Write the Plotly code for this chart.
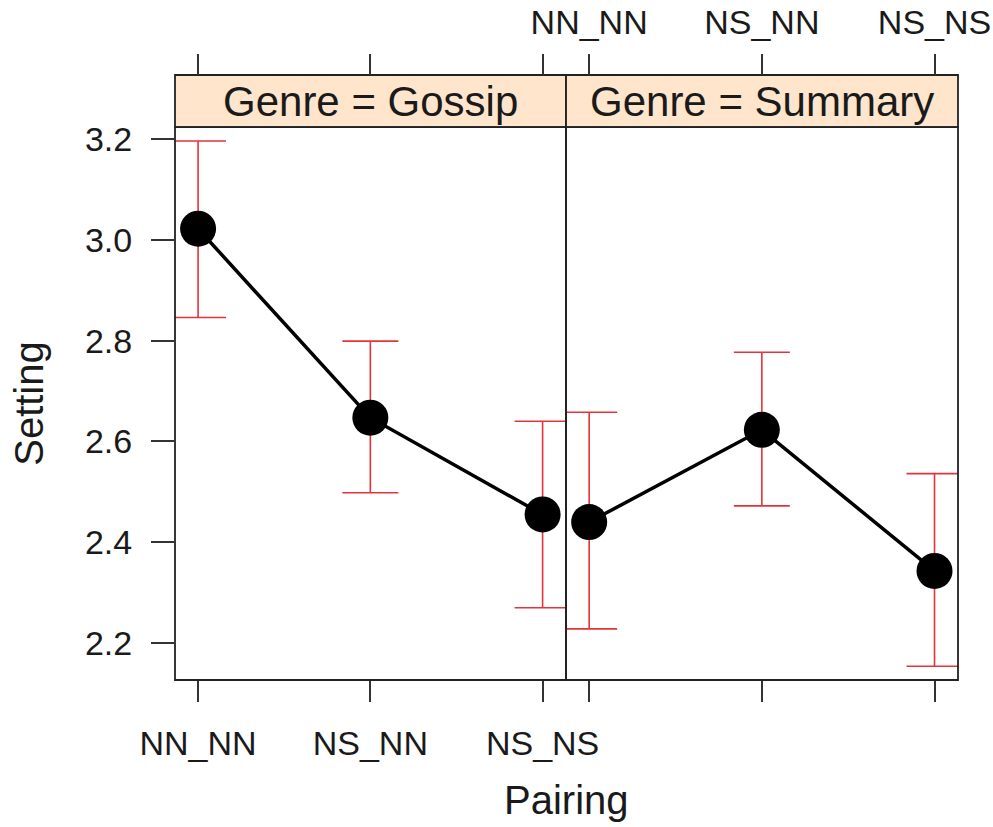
import plotly.graph_objects as go

# Mean "Setting" score per pairing, with interval bounds, for each genre panel
pairings = ["NN_NN", "NS_NN", "NS_NS"]
genres = ["Gossip", "Summary"]

gossip_mean = [3.022, 2.647, 2.455]
gossip_upper = [3.196, 2.799, 2.640]
gossip_lower = [2.846, 2.498, 2.270]

summary_mean = [2.440, 2.623, 2.343]
summary_upper = [2.658, 2.777, 2.536]
summary_lower = [2.228, 2.472, 2.154]

y_ticks = [2.2, 2.4, 2.6, 2.8, 3.0, 3.2]

FONT = "Liberation Sans, Arial, sans-serif"
ERR_COLOR = "#E3343A"
X_POS = [1, 2, 3]
X_RANGE = [0.866, 3.136]
Y_RANGE = [2.1266, 3.2238]
SPLIT = 0.4994
STRIP_BOTTOM = 0.914

panels = [
    (gossip_mean, gossip_upper, gossip_lower, "x", "x3"),
    (summary_mean, summary_upper, summary_lower, "x2", "x4"),
]

fig = go.Figure()
for mean, upper, lower, xa, xtop in panels:
    fig.add_trace(go.Scatter(
        x=X_POS, y=mean, xaxis=xa, yaxis="y",
        mode="lines+markers",
        line=dict(color="black", width=3.5),
        marker=dict(color="black", size=36),
        error_y=dict(
            type="data", symmetric=False,
            array=[u - m for u, m in zip(upper, mean)],
            arrayminus=[m - l for m, l in zip(mean, lower)],
            color=ERR_COLOR, thickness=1.6, width=28,
        ),
        showlegend=False, hoverinfo="skip",
    ))
    # transparent copy so the top (above-strip) tick axis is drawn
    fig.add_trace(go.Scatter(
        x=X_POS, y=mean, xaxis=xtop, yaxis="y", mode="markers",
        marker=dict(opacity=0, size=1), showlegend=False, hoverinfo="skip",
    ))

tick_font = dict(family=FONT, size=34, color="#1a1a1a")
common_x = dict(range=X_RANGE, tickvals=X_POS, ticktext=pairings,
                showgrid=False, zeroline=False, showline=False, automargin=False,
                ticks="outside", ticklen=21, tickwidth=1.6, tickcolor="#333",
                tickfont=tick_font)

shapes = []
annotations = []
for xd, genre in zip(["x domain", "x2 domain"], genres):
    # panel frame
    shapes.append(dict(type="rect", xref=xd, yref="y domain", x0=0, x1=1, y0=0, y1=1,
                       line=dict(color="#222", width=1.8), layer="above"))
    # strip
    shapes.append(dict(type="rect", xref=xd, yref="paper", x0=0, x1=1,
                       y0=STRIP_BOTTOM, y1=1, fillcolor="#FFE5CC",
                       line=dict(color="#222", width=1.8), layer="below"))
    annotations.append(dict(xref=xd, yref="paper", x=0.5, y=(STRIP_BOTTOM + 1) / 2,
                            text=f"Genre = {genre}", showarrow=False,
                            font=dict(family=FONT, size=42, color="#1a1a1a"),
                            xanchor="center", yanchor="middle"))

annotations.append(dict(xref="paper", yref="paper", x=0.5, y=0, yshift=-120,
                        text="Pairing", showarrow=False, xanchor="center",
                        yanchor="middle", font=dict(family=FONT, size=40, color="#1a1a1a")))

fig.update_layout(
    width=993, height=827,
    margin=dict(l=175, r=35, t=75, b=147, autoexpand=False),
    paper_bgcolor="white", plot_bgcolor="white",
    font=dict(family=FONT, color="#1a1a1a"),
    xaxis=dict(domain=[0, SPLIT], anchor="y", ticklabelstandoff=12, **common_x),
    xaxis2=dict(domain=[SPLIT, 1], anchor="y", showticklabels=False, **common_x),
    xaxis3=dict(domain=[0, SPLIT], overlaying="x", side="top", anchor="free",
                position=1, showticklabels=False, **common_x),
    xaxis4=dict(domain=[SPLIT, 1], overlaying="x2", side="top", anchor="free",
                position=1, ticklabelstandoff=6, **common_x),
    yaxis=dict(domain=[0, STRIP_BOTTOM], range=Y_RANGE, tickvals=y_ticks,
               ticktext=[f"{v:.1f}" for v in y_ticks],
               showgrid=False, zeroline=False, showline=False, automargin=False,
               ticks="outside", ticklen=23, tickwidth=1.6, tickcolor="#333",
               ticklabelstandoff=12, tickfont=tick_font,
               title=dict(text="Setting", font=dict(family=FONT, size=40), standoff=28)),
    yaxis2=dict(domain=[0, STRIP_BOTTOM], range=Y_RANGE, overlaying="y", side="right",
                anchor="x2", tickvals=y_ticks, showticklabels=False, automargin=False,
                showgrid=False, zeroline=False, showline=False,
                ticks="outside", ticklen=20, tickwidth=1.6, tickcolor="#333"),
    shapes=shapes,
    annotations=annotations,
)

fig.write_html("out.html")
